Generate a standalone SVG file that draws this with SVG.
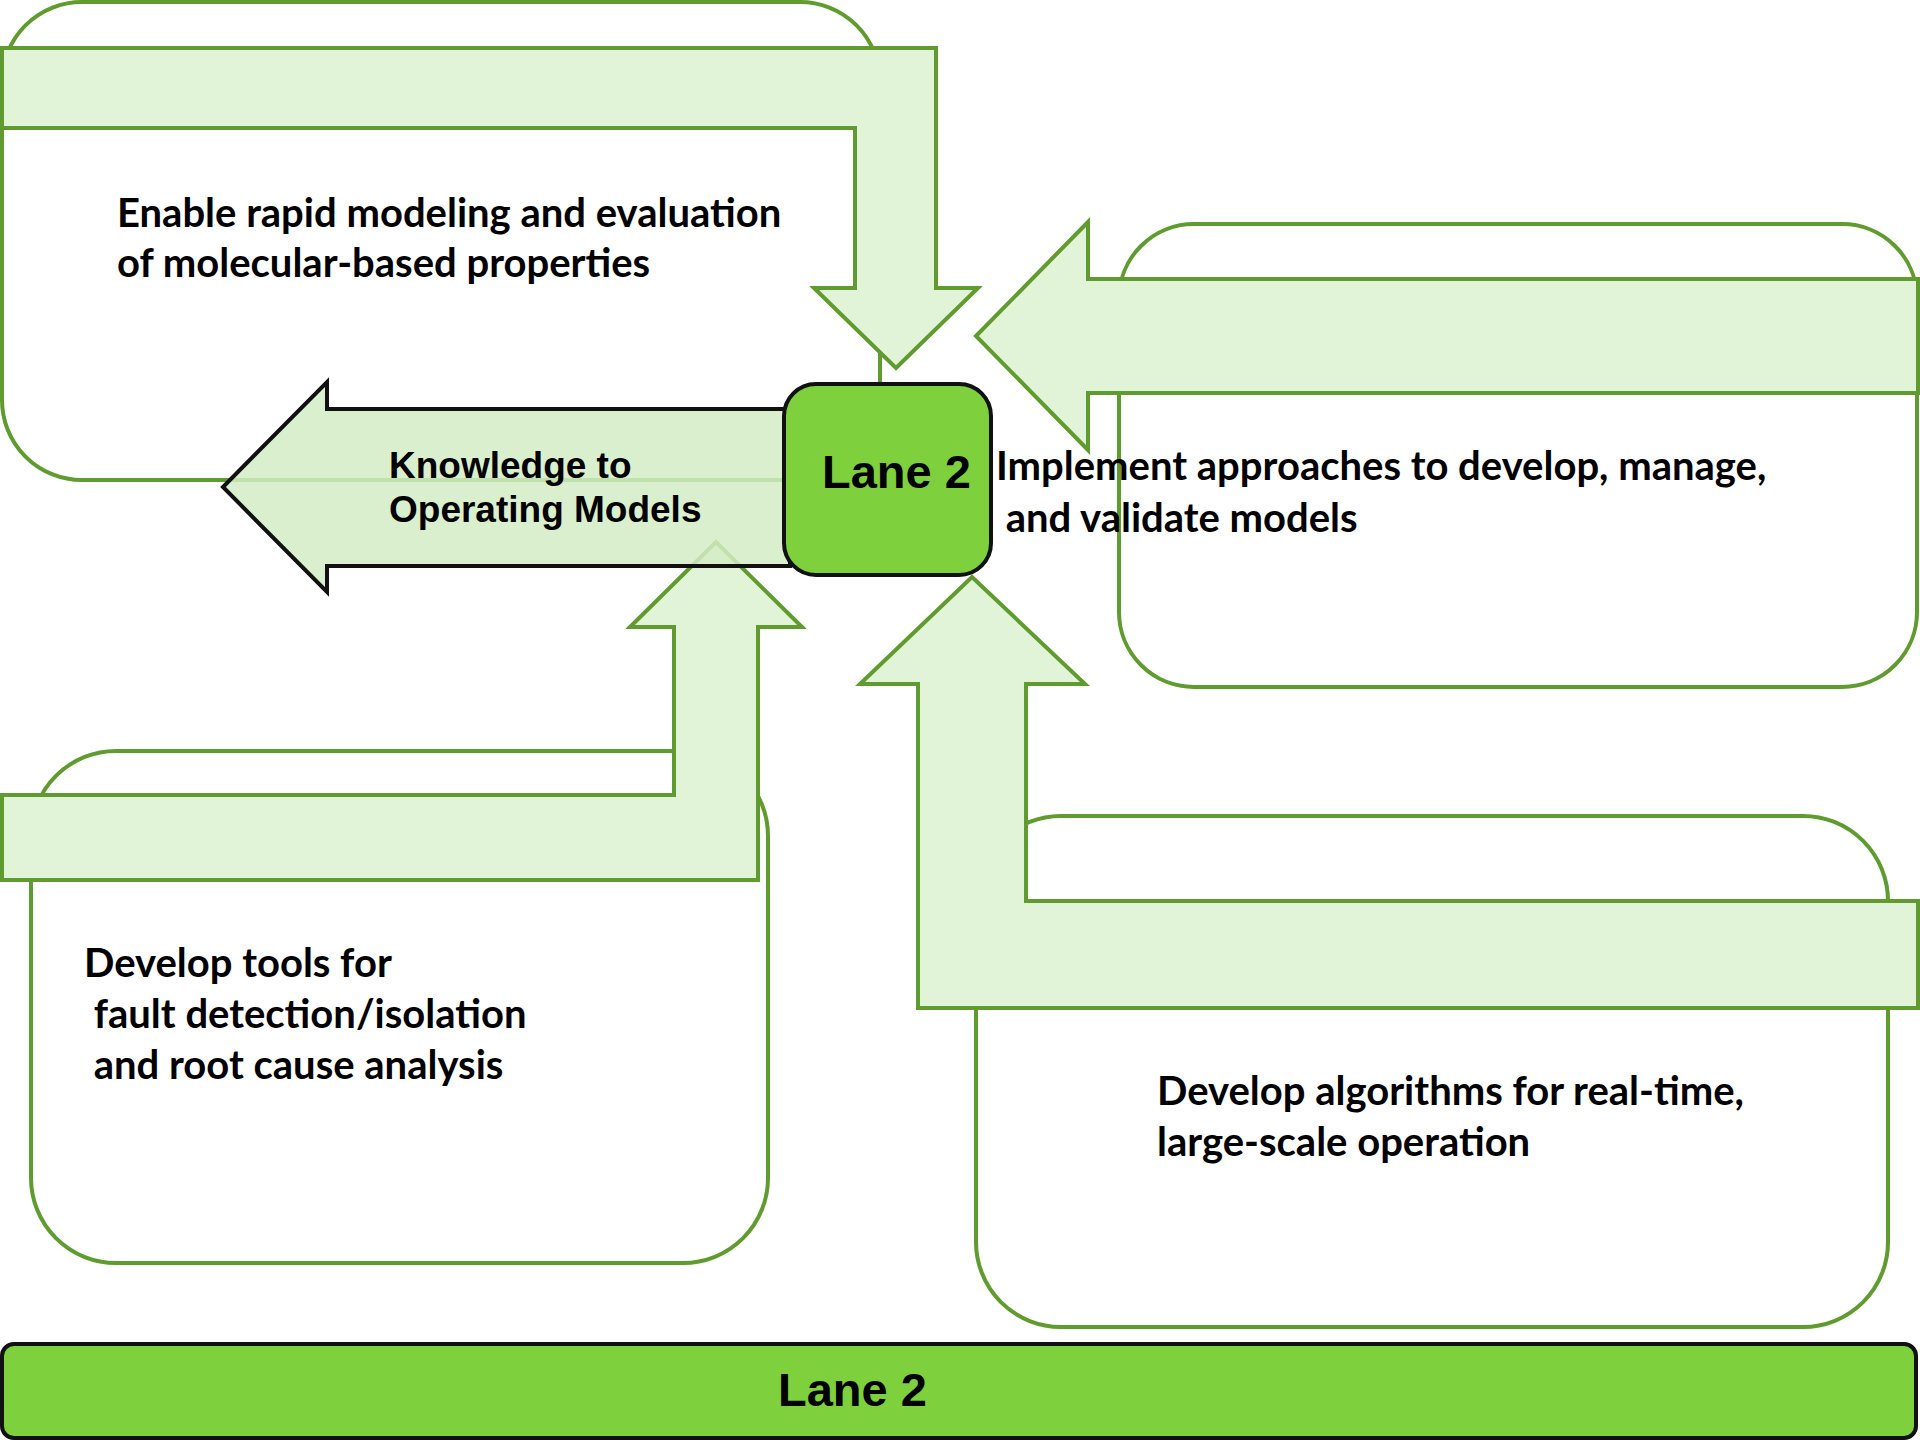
<svg xmlns="http://www.w3.org/2000/svg" width="1920" height="1440" viewBox="0 0 1920 1440">
  <style>
    .box { fill: #ffffff; stroke: #5f9b2e; stroke-width: 4; }
    .flow { fill: #e2f4d8; stroke: #5f9b2e; stroke-width: 4; stroke-linejoin: miter; }
    .out { fill: #d3ecc4; fill-opacity: 0.85; stroke: #111111; stroke-width: 4; stroke-linejoin: miter; }
    .lane { fill: #7ed13c; stroke: #111111; stroke-width: 4; }
    .body { font-family: Lato, "Open Sans", "Liberation Sans", sans-serif; font-weight: 700; font-size: 40px; fill: #000000; }
    .sans { font-family: "Liberation Sans", Arial, sans-serif; font-weight: 700; fill: #000000; }
  </style>

  <!-- bottom lane bar -->
  <g id="lane-bar">
    <rect class="lane" x="2" y="1344" width="1914" height="94" rx="12"/>
    <text class="sans" x="778" y="1406" font-size="47">Lane 2</text>
  </g>

  <!-- goal boxes -->
  <g id="box-modeling">
    <rect class="box" x="2" y="2" width="878" height="478" rx="80"/>
  </g>
  <g id="box-implement">
    <rect class="box" x="1119" y="224" width="798" height="463" rx="75"/>
  </g>
  <g id="box-fault">
    <rect class="box" x="31" y="751" width="737" height="512" rx="85"/>
  </g>
  <g id="box-algorithms">
    <rect class="box" x="976" y="816" width="912" height="511" rx="85"/>
  </g>

  <!-- block arrows feeding the central lane node -->
  <g id="connectors">
    <polygon class="flow" points="2,48 936,48 936,288 978,288 896,368 814,288 855,288 855,128 2,128"/>
    <polygon class="flow" points="1918,279 1088,279 1088,222 976,336 1088,450 1088,393 1918,393"/>
    <polygon class="flow" points="2,795 674,795 674,627 630,627 716,542 802,627 758,627 758,880 2,880"/>
    <polygon class="flow" points="1918,901 1026,901 1026,684 1085,684 972,577 860,684 918,684 918,1008 1918,1008"/>
    <polygon class="out" points="790,409 327,409 327,382 223,487 327,592 327,566 790,566"/>
  </g>

  <!-- box labels -->
  <g id="label-modeling">
    <text class="body" x="117" y="227">Enable rapid modeling and evaluation</text>
    <text class="body" x="117" y="277">of molecular-based properties</text>
  </g>
  <g id="label-implement">
    <text class="body" x="996" y="480">Implement approaches to develop, manage,</text>
    <text class="body" x="996" y="532" xml:space="preserve"> and validate models</text>
  </g>
  <g id="label-fault">
    <text class="body" x="84" y="977">Develop tools for</text>
    <text class="body" x="84" y="1028" xml:space="preserve"> fault detection/isolation</text>
    <text class="body" x="84" y="1079" xml:space="preserve"> and root cause analysis</text>
  </g>
  <g id="label-algorithms">
    <text class="body" x="1157" y="1105">Develop algorithms for real-time,</text>
    <text class="body" x="1157" y="1156">large-scale operation</text>
  </g>
  <g id="label-knowledge">
    <text class="sans" x="389" y="478" font-size="37">Knowledge to</text>
    <text class="sans" x="389" y="522" font-size="37">Operating Models</text>
  </g>

  <!-- central lane node -->
  <g id="lane-node">
    <rect class="lane" x="784" y="384" width="207" height="191" rx="32"/>
    <text class="sans" x="822" y="488" font-size="47">Lane 2</text>
  </g>
</svg>
